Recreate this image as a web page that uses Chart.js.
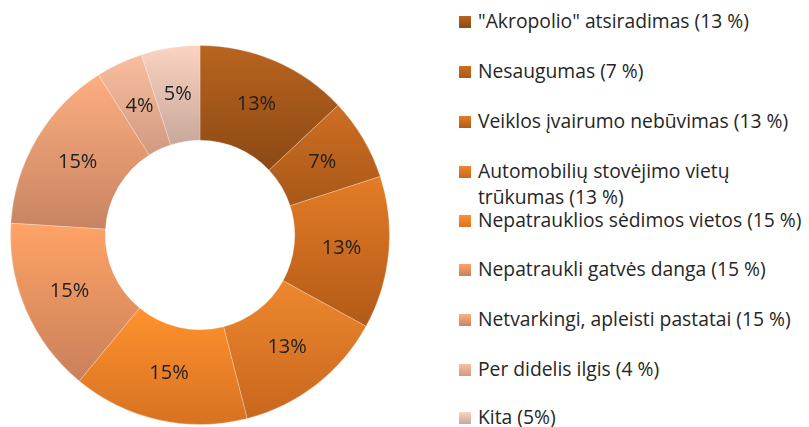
<!DOCTYPE html>
<html>
<head>
<meta charset="utf-8">
<script src="https://cdn.jsdelivr.net/npm/chart.js@4.4.1/dist/chart.umd.min.js"></script>
<style>
  body { margin: 0; width: 809px; height: 427px; background: #fff; position: relative; overflow: hidden;
         font-family: "Open Sans", "Liberation Sans", sans-serif; }
  #wrap { position: absolute; left: 10px; top: 45px; width: 380px; height: 380px; }
  #legend { position: absolute; left: 459px; top: 0; width: 350px; }
  .item { position: absolute; left: 0; display: flex; align-items: flex-start; color: #262626;
          font-size: 19.3px; line-height: 26px; white-space: nowrap; }
  .sw { width: 12px; height: 12px; margin-top: 8px; margin-right: 7px; flex: none; }
</style>
</head>
<body>
<div id="wrap"><canvas id="myChart"></canvas></div>
<div id="legend"></div>
<script>
// datos
const categorias = [
  '"Akropolio" atsiradimas',
  'Nesaugumas',
  'Veiklos įvairumo nebūvimas',
  'Automobilių stovėjimo vietų\ntrūkumas',
  'Nepatrauklios sėdimos vietos',
  'Nepatraukli gatvės danga',
  'Netvarkingi, apleisti pastatai',
  'Per didelis ilgis',
  'Kita'
];
const valores = [13, 7, 13, 13, 15, 15, 15, 4, 5];
const sufijos = [' (13 %)', ' (7 %)', ' (13 %)', ' (13 %)', ' (15 %)', ' (15 %)', ' (15 %)', ' (4 %)', ' (5%)'];
// colores: arriba / abajo (degradado vertical)
const coloresArriba = ['#B9641F', '#CF6E22', '#E47C27', '#EE882E', '#FF922E', '#FFA366', '#FDAE80', '#F9BE9E', '#FBD3C1'];
const coloresAbajo  = ['#8B4914', '#A85818', '#B25A17', '#C8661E', '#D77222', '#C9805A', '#C78462', '#D09A82', '#C8A89A'];

// legend (html)
const legendTops = [8, 58, 108, 158, 207, 256, 306, 356, 404];
let legend = document.getElementById("legend");
let template = "";
categorias.forEach((c, i) => {
  const txt = (c + sufijos[i]).replace('\n', '<br>');
  template += `<div class="item" style="top:${legendTops[i]}px"><span class="sw" style="background:linear-gradient(${coloresArriba[i]}, ${coloresAbajo[i]})"></span><span>${txt}</span></div>`;
});
legend.innerHTML = template;

// degradado por porcion
const degradados = {
  id: 'degradados',
  beforeDatasetsDraw(chart) {
    const ctx = chart.ctx;
    chart.getDatasetMeta(0).data.forEach((arc, i) => {
      const p = arc.getProps(['x', 'y', 'startAngle', 'endAngle', 'innerRadius', 'outerRadius']);
      let yMin = Infinity, yMax = -Infinity;
      for (let k = 0; k <= 20; k++) {
        const a = p.startAngle + (p.endAngle - p.startAngle) * k / 20;
        [p.innerRadius, p.outerRadius].forEach(r => {
          const y = p.y + Math.sin(a) * r;
          yMin = Math.min(yMin, y); yMax = Math.max(yMax, y);
        });
      }
      const g = ctx.createLinearGradient(0, yMin, 0, yMax);
      g.addColorStop(0, coloresArriba[i]);
      g.addColorStop(1, coloresAbajo[i]);
      arc.options.backgroundColor = g;
    });
  }
};

// etiquetas en las porciones
const etiquetas = {
  id: 'etiquetas',
  afterDatasetsDraw(chart) {
    const ctx = chart.ctx;
    const meta = chart.getDatasetMeta(0);
    ctx.save();
    ctx.font = '20px "Open Sans", "Liberation Sans", sans-serif';
    ctx.fillStyle = '#1F1F1F';
    ctx.textAlign = 'center';
    ctx.textBaseline = 'middle';
    meta.data.forEach((arc, i) => {
      const p = arc.tooltipPosition();
      ctx.fillText(valores[i] + '%', p.x, p.y);
    });
    ctx.restore();
  }
};

let dataGrafico = document.getElementById("myChart").getContext('2d');
const data = {
  labels: categorias,
  datasets: [{
    data: valores,
    backgroundColor: coloresArriba,
    borderColor: 'rgba(255,255,255,0.25)',
    borderWidth: 1
  }]
};
const config = {
  type: 'doughnut',
  data,
  options: {
    responsive: true,
    maintainAspectRatio: false,
    animation: false,
    cutout: '50%',
    layout: { padding: 0 },
    plugins: { legend: { display: false }, tooltip: { enabled: false } }
  },
  plugins: [degradados, etiquetas]
};
let myChart = new Chart(dataGrafico, config);
</script>
</body>
</html>
